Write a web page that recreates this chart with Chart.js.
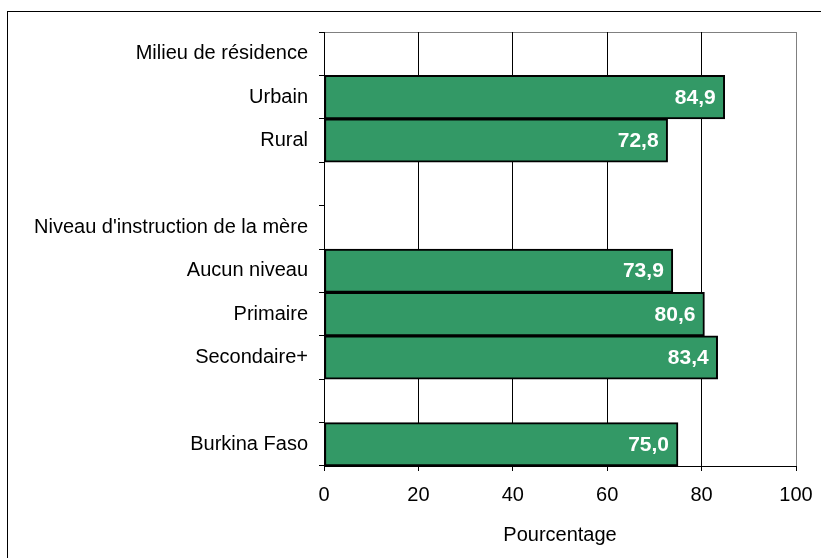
<!DOCTYPE html>
<html lang="fr">
<head>
    <meta charset="UTF-8">
    <title>Pourcentage par milieu et niveau d'instruction</title>
    <script src="https://cdn.jsdelivr.net/npm/chart.js"></script>
    <style>
        body {
            margin: 0;
            background-color: white;
        }
        #wrap {
            width: 821px;
            height: 558px;
        }
    </style>
</head>
<body>
    <div id="wrap"><canvas id="barChart" width="821" height="558"></canvas></div>

    <script>
        // categories (blank rows are the gaps between groups)
        const categories = [
            'Milieu de résidence', 'Urbain', 'Rural', '',
            "Niveau d'instruction de la mère", 'Aucun niveau', 'Primaire', 'Secondaire+', '',
            'Burkina Faso'
        ];
        const values = [null, 84.9, 72.8, null, null, 73.9, 80.6, 83.4, null, 75.0];
        const xTicks = [0, 20, 40, 60, 80, 100];

        const fontFamily = 'Arial, "Liberation Sans", sans-serif';

        // frame around the whole figure + top border of plot area
        const framePlugin = {
            id: 'frame',
            beforeDraw(chart) {
                const c = chart.ctx;
                const a = chart.chartArea;
                c.save();
                c.strokeStyle = '#000';
                c.lineWidth = 1;
                c.strokeRect(7.5, 11.5, 900, 700);
                c.strokeStyle = '#808080';
                c.beginPath();
                c.moveTo(a.left, a.top + 0.5);
                c.lineTo(a.right, a.top + 0.5);
                c.stroke();
                c.restore();
            }
        };

        // white values written inside the end of each bar
        const valueLabels = {
            id: 'valueLabels',
            afterDatasetsDraw(chart) {
                const c = chart.ctx;
                const meta = chart.getDatasetMeta(0);
                c.save();
                c.fillStyle = '#fff';
                c.font = 'bold 21px ' + fontFamily;
                c.textAlign = 'right';
                c.textBaseline = 'middle';
                meta.data.forEach((bar, i) => {
                    if (values[i] == null) return;
                    c.fillText(values[i].toFixed(1).replace('.', ','), bar.x - 9, bar.y + 1);
                });
                c.restore();
            }
        };

        const ctx = document.getElementById('barChart').getContext('2d');
        const chart = new Chart(ctx, {
            type: 'bar',
            data: {
                labels: categories,
                datasets: [{
                    data: values,
                    backgroundColor: '#339966',
                    borderColor: '#000',
                    borderWidth: 2,
                    borderSkipped: false,
                    barPercentage: 1,
                    categoryPercentage: 1
                }]
            },
            options: {
                indexAxis: 'y',
                responsive: false,
                animation: false,
                layout: { padding: { top: 32, right: 25, left: 0, bottom: 0 } },
                plugins: {
                    legend: { display: false },
                    tooltip: { enabled: false }
                },
                scales: {
                    x: {
                        min: 0,
                        max: 100,
                        afterBuildTicks: (s) => { s.ticks = xTicks.map(v => ({ value: v })); },
                        afterFit: (s) => {
                            s.height = 92;
                            s.paddingLeft = 0;
                            s.paddingRight = 0;
                        },
                        grid: {
                            color: (c) => c.tick && c.tick.value === 100 ? '#808080' : '#000',
                            tickColor: '#000',
                            tickLength: 5,
                            lineWidth: 1
                        },
                        border: { color: '#000', width: 1 },
                        ticks: {
                            color: '#000',
                            padding: 12,
                            maxRotation: 0,
                            font: { family: fontFamily, size: 20 }
                        },
                        title: {
                            display: true,
                            text: 'Pourcentage',
                            color: '#000',
                            padding: { top: 0, bottom: 11 },
                            font: { family: fontFamily, size: 20 }
                        }
                    },
                    y: {
                        afterFit: (s) => { s.width = 324; },
                        grid: {
                            drawOnChartArea: false,
                            color: '#000',
                            tickLength: 5
                        },
                        border: { color: '#000', width: 1 },
                        ticks: {
                            color: '#000',
                            padding: 11,
                            autoSkip: false,
                            font: { family: fontFamily, size: 20 }
                        }
                    }
                }
            },
            plugins: [framePlugin, valueLabels]
        });
    </script>
</body>
</html>
